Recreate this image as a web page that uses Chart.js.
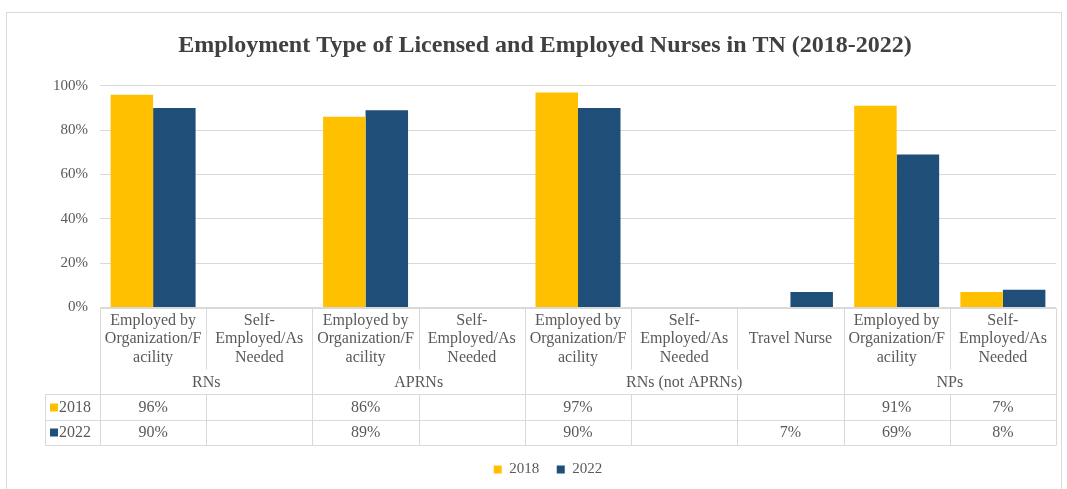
<!DOCTYPE html>
<html>
<head>
<meta charset="utf-8">
<title>Employment Type of Licensed and Employed Nurses in TN</title>
<script src="https://cdn.jsdelivr.net/npm/chart.js@4.4.0/dist/chart.umd.min.js"></script>
<style>
    html, body { margin: 0; padding: 0; background: #fff; }
    #wrap { width: 1067px; height: 489px; }
</style>
</head>
<body>
<div id="wrap"><canvas id="nursesChart" width="1067" height="489"></canvas></div>
<script>
// Chart data
const categories = [
    ['Employed by', 'Organization/F', 'acility'],
    ['Self-', 'Employed/As', 'Needed'],
    ['Employed by', 'Organization/F', 'acility'],
    ['Self-', 'Employed/As', 'Needed'],
    ['Employed by', 'Organization/F', 'acility'],
    ['Self-', 'Employed/As', 'Needed'],
    ['Travel Nurse'],
    ['Employed by', 'Organization/F', 'acility'],
    ['Self-', 'Employed/As', 'Needed']
];
const groupLabels = ['RNs', 'APRNs', 'RNs (not APRNs)', 'NPs'];
const groupSpans = [2, 2, 3, 2];
const seriesNames = ['2018', '2022'];
const values2018 = [96, null, 86, null, 97, null, null, 91, 7];
const values2022 = [90, null, 89, null, 90, null, 7, 69, 8];
const yTicks = [0, 20, 40, 60, 80, 100];

const COLORS = ['#FFC000', '#1F4E79'];
const FONT = "'Liberation Serif', 'Times New Roman', serif";
const TEXT = '#595959';
const LINE = '#d9d9d9';

// Draws the outer border of the chart
const frame = {
    id: 'frame',
    beforeDraw(chart) {
        const ctx = chart.ctx;
        ctx.save();
        ctx.fillStyle = '#fff';
        ctx.fillRect(0, 0, chart.width, chart.height);
        ctx.strokeStyle = LINE;
        ctx.lineWidth = 1;
        ctx.strokeRect(6.5, 12.5, 1055, 490);
        ctx.restore();
    },
    // title and legend sit a bit right of centre in the original
    afterLayout(chart) {
        chart.legend.left += 20;
        chart.legend.right += 20;
        chart.titleBlock.left += 17;
        chart.titleBlock.right += 17;
    }
};

// Excel style data table under the plot
const dataTable = {
    id: 'dataTable',
    afterDraw(chart) {
        const ctx = chart.ctx;
        const area = chart.chartArea;
        const x = chart.scales.x;
        const step = x.getPixelForValue(1) - x.getPixelForValue(0);
        const edge = i => x.getPixelForValue(i) - step / 2;

        const top = area.bottom;
        const headerBottom = top + 61;
        const groupBottom = top + 86;
        const row1Bottom = top + 112;
        const row2Bottom = top + 137;
        const leftCol = 45;

        // group boundaries
        const groupEdges = [0];
        groupSpans.forEach(s => groupEdges.push(groupEdges[groupEdges.length - 1] + s));

        ctx.save();
        ctx.strokeStyle = LINE;
        ctx.lineWidth = 1;
        const line = (x1, y1, x2, y2) => {
            ctx.beginPath();
            ctx.moveTo(Math.round(x1) + 0.5, Math.round(y1) + 0.5);
            ctx.lineTo(Math.round(x2) + 0.5, Math.round(y2) + 0.5);
            ctx.stroke();
        };

        line(area.left, top, area.right, top);
        line(leftCol, groupBottom, area.right, groupBottom);
        line(leftCol, row1Bottom, area.right, row1Bottom);
        line(leftCol, row2Bottom, area.right, row2Bottom);
        line(leftCol, groupBottom, leftCol, row2Bottom);

        for (let i = 0; i <= categories.length; i++) {
            const px = edge(i);
            if (groupEdges.includes(i)) {
                line(px, top, px, row2Bottom);
            } else {
                line(px, top, px, headerBottom);
                line(px, groupBottom, px, row2Bottom);
            }
        }

        ctx.fillStyle = TEXT;
        ctx.font = '16px ' + FONT;
        ctx.textAlign = 'center';
        ctx.textBaseline = 'middle';

        // category labels
        categories.forEach((lines, i) => {
            const cx = x.getPixelForValue(i);
            const startY = lines.length === 1 ? top + 31 : top + 13;
            lines.forEach((t, j) => ctx.fillText(t, cx, startY + j * 18.5));
        });

        // group labels
        groupLabels.forEach((g, k) => {
            const cx = (edge(groupEdges[k]) + edge(groupEdges[k + 1])) / 2;
            ctx.fillText(g, cx, top + 75);
        });

        // value rows
        const rows = [values2018, values2022];
        const rowY = [top + 100, top + 125];
        rows.forEach((vals, r) => {
            vals.forEach((v, i) => {
                if (v !== null) ctx.fillText(v + '%', x.getPixelForValue(i), rowY[r]);
            });
            ctx.fillStyle = COLORS[r];
            ctx.fillRect(leftCol + 5, rowY[r] - 4, 8, 8);
            ctx.fillStyle = TEXT;
            ctx.textAlign = 'left';
            ctx.fillText(seriesNames[r], leftCol + 14, rowY[r]);
            ctx.textAlign = 'center';
        });

        ctx.restore();
    }
};

const ctx = document.getElementById('nursesChart').getContext('2d');
const chart = new Chart(ctx, {
    type: 'bar',
    data: {
        labels: categories.map(c => c.join(' ')),
        datasets: [
            { label: seriesNames[0], data: values2018, backgroundColor: COLORS[0] },
            { label: seriesNames[1], data: values2022, backgroundColor: COLORS[1] }
        ]
    },
    options: {
        responsive: false,
        animation: false,
        layout: { padding: { left: 0, right: 11, bottom: 2 } },
        datasets: {
            bar: { categoryPercentage: 0.8, barPercentage: 1.0 }
        },
        plugins: {
            title: {
                display: true,
                text: 'Employment Type of Licensed and Employed Nurses in TN (2018-2022)',
                color: '#404040',
                font: { family: FONT, size: 24, weight: 'bold' },
                padding: { top: 31, bottom: 26 }
            },
            legend: {
                position: 'bottom',
                labels: {
                    color: TEXT,
                    font: { family: FONT, size: 15 },
                    boxWidth: 8,
                    boxHeight: 8,
                    padding: 17.5
                }
            },
            tooltip: { enabled: false }
        },
        scales: {
            x: {
                grid: { display: false },
                border: { display: false },
                ticks: { display: false },
                afterFit: scale => { scale.height = 137; }
            },
            y: {
                min: 0,
                max: 100,
                afterFit: scale => { scale.width = 100; },
                afterBuildTicks: scale => { scale.ticks = yTicks.map(v => ({ value: v })); },
                grid: { color: LINE, drawTicks: false },
                border: { display: false },
                ticks: {
                    padding: 12,
                    color: TEXT,
                    font: { family: FONT, size: 15 },
                    callback: v => v + '%'
                }
            }
        }
    },
    plugins: [frame, dataTable]
});
</script>
</body>
</html>
